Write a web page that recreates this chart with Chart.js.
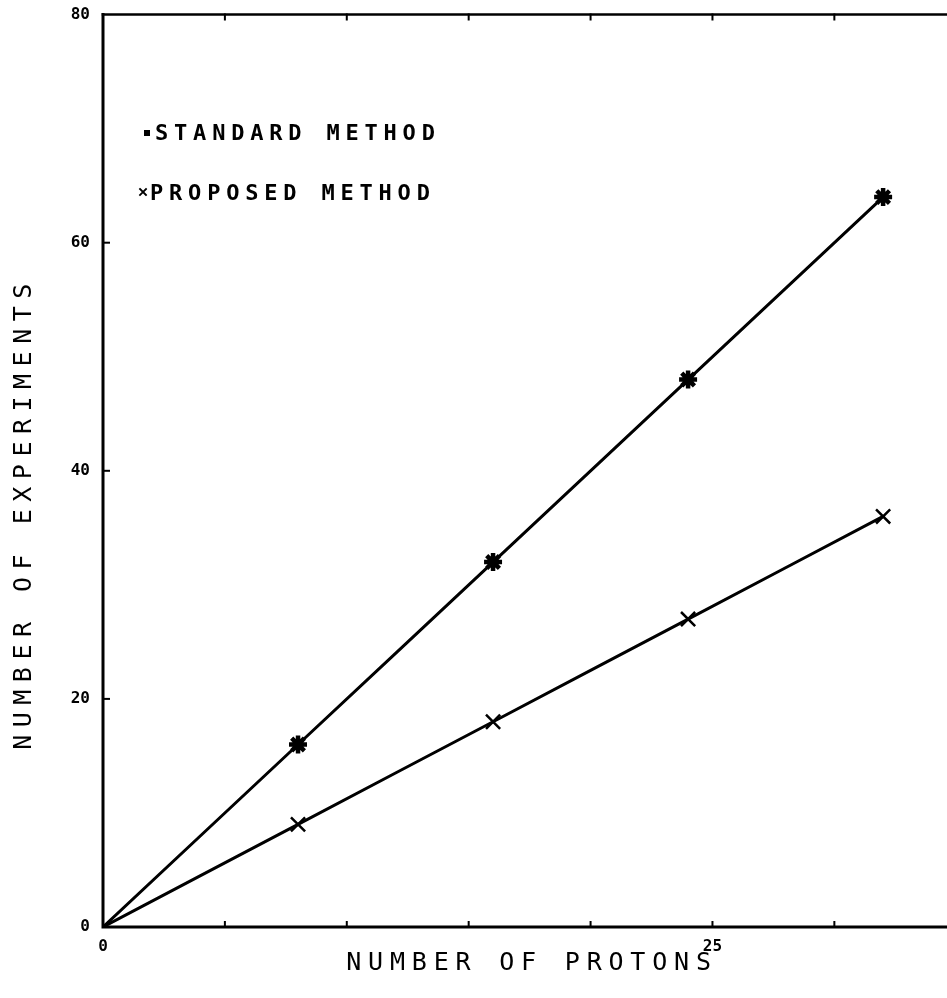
<!DOCTYPE html>
<html>
<head>
<meta charset="utf-8">
<script src="https://cdn.jsdelivr.net/npm/chart.js@4.4.1/dist/chart.umd.min.js"></script>
<style>
  html, body { margin: 0; padding: 0; background: #fff; overflow: hidden; }
  #wrap { width: 960px; height: 998px; }
</style>
</head>
<body>
<div id="wrap"><canvas id="chart" width="960" height="998"></canvas></div>
<script>
// data
const protons = [0, 8, 16, 24, 32];
const standardMethod = [0, 16, 32, 48, 64];
const proposedMethod = [0, 9, 18, 27, 36];
const xTickLabels = [0, 25];
const yTicks = [0, 20, 40, 60, 80];

const FONT = "'DejaVu Sans Mono', monospace";

function toPoints(ys) {
  return protons.map((x, i) => ({ x: x, y: ys[i] }));
}

// frame, inward ticks, legend and axis titles
const plotterLook = {
  id: "plotterLook",
  afterDraw(chart) {
    const ctx = chart.ctx;
    const a = chart.chartArea;
    const xs = chart.scales.x;
    const ys = chart.scales.y;
    ctx.save();
    ctx.strokeStyle = "#000";
    ctx.lineCap = "square";

    // axes frame
    ctx.lineWidth = 3;
    ctx.beginPath();
    ctx.moveTo(a.left, a.top);
    ctx.lineTo(a.left, a.bottom);
    ctx.lineTo(chart.width, a.bottom);
    ctx.stroke();
    ctx.lineWidth = 2.5;
    ctx.beginPath();
    ctx.moveTo(a.left, a.top);
    ctx.lineTo(chart.width, a.top);
    ctx.stroke();

    // inward tick marks
    ctx.lineWidth = 2;
    for (let v = 5; v < xs.max; v += 5) {
      const px = xs.getPixelForValue(v);
      ctx.beginPath();
      ctx.moveTo(px, a.bottom);
      ctx.lineTo(px, a.bottom - 5);
      ctx.moveTo(px, a.top);
      ctx.lineTo(px, a.top + 5);
      ctx.stroke();
    }
    yTicks.slice(1, -1).forEach((v) => {
      const py = ys.getPixelForValue(v);
      ctx.beginPath();
      ctx.moveTo(a.left, py);
      ctx.lineTo(a.left + 6, py);
      ctx.stroke();
    });

    // legend
    ctx.fillStyle = "#000";
    ctx.textBaseline = "alphabetic";
    ctx.font = "bold 22px " + FONT;
    ctx.letterSpacing = "5.8px";
    ctx.fillText("STANDARD METHOD", 155, 140);
    ctx.fillText("PROPOSED METHOD", 150, 200);
    ctx.fillRect(144, 130, 6, 6);
    ctx.lineWidth = 1.8;
    ctx.beginPath();
    ctx.moveTo(140, 189);
    ctx.lineTo(146, 195);
    ctx.moveTo(146, 189);
    ctx.lineTo(140, 195);
    ctx.stroke();

    // axis titles
    ctx.font = "25px " + FONT;
    ctx.letterSpacing = "6.8px";
    ctx.textAlign = "center";
    ctx.fillText("NUMBER OF PROTONS", 532, 970);
    ctx.save();
    ctx.translate(31, 517);
    ctx.rotate(-Math.PI / 2);
    ctx.letterSpacing = "7.5px";
    ctx.fillText("NUMBER OF EXPERIMENTS", 4, 0);
    ctx.restore();
    ctx.restore();
  }
};

new Chart(document.getElementById("chart"), {
  type: "line",
  data: {
    datasets: [
      {
        label: "STANDARD METHOD",
        data: toPoints(standardMethod),
        borderColor: "#000",
        backgroundColor: "#000",
        borderWidth: 3,
        tension: 0.15,
        pointStyle: "star",
        pointRadius: [0, 9, 9, 9, 9],
        pointBorderWidth: 4.5
      },
      {
        label: "PROPOSED METHOD",
        data: toPoints(proposedMethod),
        borderColor: "#000",
        backgroundColor: "#000",
        borderWidth: 3,
        tension: 0.15,
        pointStyle: "crossRot",
        pointRadius: [0, 10, 10, 10, 10],
        pointBorderWidth: 2.5
      }
    ]
  },
  options: {
    responsive: false,
    animation: false,
    layout: { padding: { top: 10, right: 10, left: 0, bottom: 0 } },
    plugins: {
      legend: { display: false },
      tooltip: { enabled: false }
    },
    scales: {
      x: {
        type: "linear",
        min: 0,
        max: 34.6,
        afterFit: (scale) => { scale.height = 71; },
        grid: { display: false },
        border: { display: false },
        ticks: {
          stepSize: 5,
          autoSkip: false,
          maxRotation: 0,
          padding: 2,
          color: "#000",
          font: { family: FONT, size: 16, weight: "bold" },
          callback: (v) => (xTickLabels.includes(v) ? String(v) : "")
        }
      },
      y: {
        min: 0,
        max: 80,
        afterFit: (scale) => { scale.width = 103; },
        grid: { display: false },
        border: { display: false },
        ticks: {
          stepSize: 20,
          padding: 5,
          color: "#000",
          font: { family: FONT, size: 16, weight: "bold" },
          callback: (v) => (yTicks.includes(v) ? String(v) : "")
        }
      }
    }
  },
  plugins: [plotterLook]
});
</script>
</body>
</html>
